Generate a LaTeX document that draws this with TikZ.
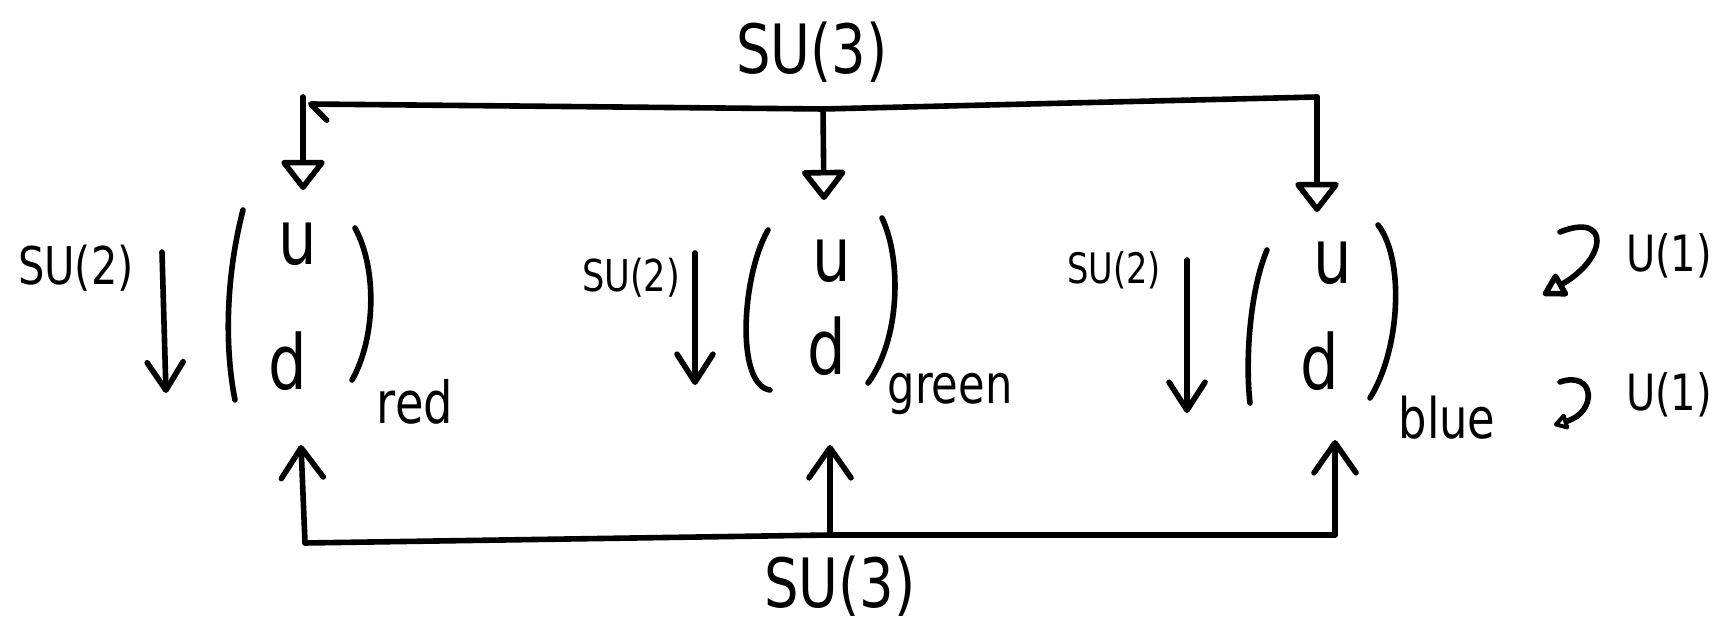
\documentclass[tikz,border=0pt]{standalone}
\usepackage{fontspec}
\setmainfont[FakeStretch=0.8]{DejaVu Sans}
\usetikzlibrary{arrows.meta}
\begin{document}
\begin{tikzpicture}[x=0.5pt,y=-0.5pt]
\tikzset{
  ink/.style={line width=2.8pt, line cap=round, line join=round},
  cup/.style={-{Triangle[open, round, length=16pt, width=24pt]}},
  smallcup/.style={-{Triangle[open, round, length=13pt, width=14pt]}},
  tinycup/.style={-{Triangle[open, round, length=8pt, width=9pt]}},
  barb/.style={-{Straight Barb[round, length=15pt, width=21pt]}},
  sbarb/.style={-{Straight Barb[round, length=14pt, width=18pt]}},
  lbl/.style={inner sep=0pt, anchor=center},
  quark/.style={inner sep=0pt, anchor=base, font=\fontsize{38}{42}\selectfont},
  colr/.style={inner sep=0pt, anchor=base},
}
\useasboundingbox (0,0) rectangle (1723,625);

% labels
\node[lbl, font=\fontsize{34}{38}\selectfont] (su3t) at (812,52) {SU(3)};
\node[lbl, font=\fontsize{34}{37}\selectfont] (su3b) at (840,586) {SU(3)};
\node[lbl, font=\fontsize{26}{30}\selectfont] (su2l) at (76,268) {SU(2)};
\node[lbl, font=\fontsize{22}{26}\selectfont] (su2m) at (631,278) {SU(2)};
\node[lbl, font=\fontsize{21}{25}\selectfont] (su2r) at (1114,270) {SU(2)};
\node[lbl, font=\fontsize{25}{29}\selectfont] (u1t) at (1669,256) {U(1)};
\node[lbl, font=\fontsize{25}{29}\selectfont] (u1b) at (1669,395) {U(1)};

% quarks
\node[quark] (ul) at (298,265) {u};
\node[quark] (dl) at (288,390) {d};
\node[quark] (um) at (832,282) {u};
\node[quark] (dm) at (827,375) {d};
\node[quark] (ur) at (1333,284) {u};
\node[quark] (dr) at (1320,390) {d};

\node[colr, font=\fontsize{29}{32}\selectfont] (red) at (415,423) {red};
\node[colr, font=\fontsize{27}{30}\selectfont] (green) at (950,403) {green};
\node[colr, font=\fontsize{28}{31}\selectfont] (blue) at (1447,438) {blue};

% parentheses
\draw[ink] (243,210) .. controls (225,280) and (225,350) .. (235,400);
\draw[ink] (355,228) .. controls (378,270) and (375,340) .. (352,380);
\draw[ink] (768,230) .. controls (742,275) and (735,385) .. (770,390);
\draw[ink] (882,218) .. controls (902,260) and (900,340) .. (868,383);
\draw[ink] (1267,250) .. controls (1250,290) and (1245,360) .. (1250,403);
\draw[ink] (1378,225) .. controls (1405,260) and (1400,350) .. (1370,398);

% SU(2) arrows
\coordinate (al1) at (162,252); \coordinate (al2) at (166,393);
\coordinate (am1) at (695,253); \coordinate (am2) at (695,385);
\coordinate (ar1) at (1187,260); \coordinate (ar2) at (1187,413);
\draw[ink, sbarb] (al1) -- (al2);
\draw[ink, sbarb] (am1) -- (am2);
\draw[ink, sbarb] (ar1) -- (ar2);

% top SU(3) frame
\coordinate (tl0) at (303,97);  \coordinate (tl) at (308,104);
\coordinate (tm) at (823,109);  \coordinate (tr) at (1317,97);
\coordinate (tl1) at (303,190); \coordinate (tm1) at (824,200);
\coordinate (tr1) at (1317,212);
\draw[ink, {Straight Barb[left, round, length=8pt, width=16pt]}-] (tl) -- (tm) -- (tr);
\draw[ink, cup] (tl0) -- (tl1);
\draw[ink, cup] (tm) -- (tm1);
\draw[ink, cup] (tr) -- (tr1);

% bottom SU(3) frame
\coordinate (bl) at (305,543); \coordinate (bm) at (830,535);
\coordinate (br) at (1335,535);
\coordinate (bl1) at (301,445); \coordinate (bm1) at (830,445);
\coordinate (br1) at (1335,440);
\draw[ink] (bl) -- (bm) -- (br);
\draw[ink, barb] (bl) -- (bl1);
\draw[ink, barb] (bm) -- (bm1);
\draw[ink, barb] (br) -- (br1);

% U(1) curly arrows
\coordinate (c1a) at (1560,232); \coordinate (c1b) at (1543,295);
\coordinate (c2a) at (1560,382); \coordinate (c2b) at (1554,425);
\draw[ink, smallcup] (c1a) .. controls (1610,212) and (1608,258) .. (c1b);
\draw[ink, tinycup] (c2a) .. controls (1595,370) and (1598,412) .. (c2b);
\end{tikzpicture}
\end{document}
